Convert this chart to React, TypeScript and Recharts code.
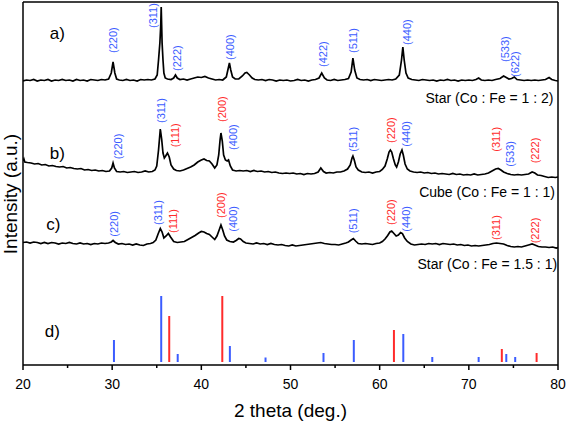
import React from "react"
import { ComposedChart, Line, Scatter, XAxis, YAxis, ReferenceLine } from "recharts"

const FONT = '"Liberation Sans", Arial, Helvetica, sans-serif'
const BLUE = "#3b5cff"
const RED = "#ff2b2b"

// intensities in a.u., patterns stacked with their own offsets
// a) Star (Co : Fe = 1 : 2)
const patternA: [number, number][] = [
  [20.0, 284], [20.4, 285], [20.8, 284.5], [21.2, 285.5], [21.6, 284], [22.0, 285], [22.4, 284.5], [22.8, 285.5],
  [23.2, 284], [23.6, 285], [24.0, 284.5], [24.4, 285.5], [24.8, 284.5], [25.2, 285], [25.6, 284], [26.0, 285.5],
  [26.4, 284.5], [26.8, 285], [27.2, 284], [27.6, 285.5], [28.0, 285], [28.4, 284.5], [28.8, 285.5], [29.2, 285],
  [29.6, 286], [29.9, 292], [30.1, 303], [30.3, 292], [30.5, 286], [30.8, 285], [31.2, 284.5], [31.6, 285.5],
  [32.0, 284.5], [32.4, 285], [32.8, 284], [33.2, 285.5], [33.6, 285], [34.0, 285.5], [34.4, 285], [34.8, 286],
  [35.05, 290], [35.2, 305], [35.35, 322], [35.45, 340], [35.5, 358], [35.55, 340], [35.6, 322], [35.7, 305],
  [35.8, 292], [35.95, 287], [36.2, 286], [36.6, 285.5], [36.9, 287], [37.1, 290], [37.3, 287], [37.6, 285.5],
  [38.0, 286], [38.4, 285], [38.8, 286], [39.2, 287], [39.6, 288], [40.0, 287.5], [40.4, 288.5], [40.8, 287],
  [41.2, 286], [41.6, 285], [42.0, 285.5], [42.4, 285], [42.8, 288], [43.0, 296], [43.15, 302], [43.3, 295],
  [43.5, 288], [43.8, 286], [44.2, 286], [44.6, 289], [44.9, 292], [45.1, 292.5], [45.4, 290], [45.7, 287],
  [46.0, 285.5], [46.4, 285], [46.8, 285.5], [47.2, 284.5], [47.6, 285.5], [48.0, 285], [48.4, 284], [48.8, 285],
  [49.2, 284.5], [49.6, 285], [50.0, 284], [50.4, 284.5], [50.8, 285.5], [51.2, 284.5], [51.6, 285], [52.0, 284],
  [52.4, 285], [52.8, 285.5], [53.2, 287], [53.5, 292], [53.8, 287], [54.1, 285], [54.5, 284.5], [54.9, 285.5],
  [55.3, 284.5], [55.7, 285], [56.1, 285.5], [56.5, 286.5], [56.8, 293], [57.0, 307], [57.2, 295], [57.45, 287],
  [57.8, 285.5], [58.2, 285], [58.6, 285.5], [59.0, 284.5], [59.4, 285.5], [59.8, 285], [60.2, 284.5], [60.6, 285],
  [61.0, 285.5], [61.4, 285], [61.8, 286], [62.2, 290], [62.45, 305], [62.6, 318], [62.75, 305], [62.95, 292],
  [63.2, 287], [63.6, 285.5], [64.0, 285], [64.4, 284.5], [64.8, 285.5], [65.2, 285], [65.6, 284.5], [66.0, 285],
  [66.4, 284], [66.8, 285], [67.2, 284.5], [67.6, 285.5], [68.0, 284.5], [68.4, 285], [68.8, 284], [69.2, 285],
  [69.6, 284.5], [70.0, 285], [70.4, 284.5], [70.8, 285.5], [71.1, 287], [71.4, 285], [71.8, 284.5], [72.2, 285],
  [72.6, 284.5], [73.0, 285.5], [73.5, 286.5], [73.9, 289], [74.2, 287.5], [74.5, 286], [74.8, 286.5], [75.1, 288],
  [75.4, 285.5], [75.8, 285], [76.2, 284.5], [76.6, 285], [77.0, 284.5], [77.4, 285], [77.8, 284.5], [78.2, 285],
  [78.6, 285.5], [79.0, 287.5], [79.3, 285.5], [79.7, 284.5], [80.0, 284],
]

// b) Cube (Co : Fe = 1 : 1)
const patternB: [number, number][] = [
  [20.0, 204], [20.1, 206], [20.2, 203], [20.5, 202.5], [20.9, 202], [21.3, 201], [21.7, 201.5], [22.1, 200],
  [22.5, 200.5], [22.9, 199], [23.3, 199.5], [23.7, 198.5], [24.1, 198], [24.5, 198.5], [24.9, 197], [25.3, 197.5],
  [25.7, 196.5], [26.1, 196], [26.5, 196.5], [26.9, 195], [27.3, 195.5], [27.7, 194.5], [28.1, 195], [28.5, 194],
  [28.9, 194.5], [29.3, 193.5], [29.7, 194], [29.95, 197], [30.1, 202], [30.25, 197], [30.5, 193.5], [30.9, 193],
  [31.3, 193.5], [31.7, 192.5], [32.1, 193], [32.5, 193.5], [32.9, 192.5], [33.3, 193], [33.7, 194], [34.1, 193],
  [34.5, 193.5], [34.8, 195], [35.0, 199], [35.2, 215], [35.4, 236], [35.55, 226], [35.7, 212], [35.85, 207],
  [36.0, 209], [36.2, 212], [36.4, 208], [36.6, 200], [36.9, 196], [37.2, 194.5], [37.6, 194], [38.0, 195],
  [38.4, 196.5], [38.8, 198], [39.2, 200], [39.6, 203], [40.0, 205], [40.3, 206], [40.6, 204.5], [40.9, 204],
  [41.2, 201], [41.5, 197], [41.75, 200], [41.95, 210], [42.1, 225], [42.2, 232], [42.35, 224], [42.5, 210],
  [42.7, 205], [42.9, 204], [43.05, 205], [43.25, 199], [43.5, 195], [43.9, 194], [44.3, 194.5], [44.7, 194],
  [45.1, 194.5], [45.5, 193.5], [45.9, 194.5], [46.3, 193.5], [46.7, 194], [47.1, 193], [47.5, 193.5], [47.9, 192.5],
  [48.3, 193], [48.7, 192], [49.1, 191.5], [49.5, 192], [49.9, 191.5], [50.3, 192], [50.7, 191], [51.1, 191.5],
  [51.5, 190.5], [51.9, 191.5], [52.3, 191], [52.7, 191.5], [53.1, 193], [53.4, 197], [53.7, 193.5], [54.0, 192],
  [54.4, 192.5], [54.8, 192], [55.2, 193], [55.6, 193], [56.0, 194], [56.4, 196], [56.7, 200], [56.9, 207],
  [57.0, 209], [57.15, 205], [57.35, 198], [57.6, 195], [58.0, 193], [58.4, 192.5], [58.8, 193], [59.2, 192],
  [59.6, 193], [60.0, 193.5], [60.3, 195.5], [60.6, 199], [60.85, 206], [61.05, 213], [61.2, 215], [61.35, 213],
  [61.55, 206], [61.75, 200], [61.9, 198], [62.1, 203], [62.3, 211], [62.5, 215], [62.65, 210], [62.85, 201],
  [63.1, 196], [63.4, 194], [63.8, 193], [64.2, 192.5], [64.6, 193], [65.0, 192], [65.4, 192.5], [65.8, 191.5],
  [66.2, 192], [66.6, 191], [67.0, 191.5], [67.4, 191], [67.8, 190.5], [68.2, 191.5], [68.6, 190.5], [69.0, 191],
  [69.4, 190], [69.8, 190.5], [70.2, 190], [70.6, 191], [71.0, 190], [71.4, 190.5], [71.8, 191], [72.2, 192],
  [72.6, 194], [73.0, 196], [73.3, 196.5], [73.6, 195], [73.9, 193], [74.3, 191.5], [74.7, 190.5], [75.1, 190],
  [75.5, 190.5], [75.9, 190], [76.3, 190.5], [76.7, 191], [77.1, 193], [77.4, 192], [77.7, 190], [78.1, 189.5],
  [78.5, 188.5], [78.9, 187.5], [79.3, 188], [79.7, 187.5], [80.0, 188],
]

// c) Star (Co : Fe = 1.5 : 1)
const patternC: [number, number][] = [
  [20.0, 122.5], [20.4, 123], [20.8, 122], [21.2, 123], [21.6, 122.5], [22.0, 121.5], [22.4, 122.5], [22.8, 121.5],
  [23.2, 122.5], [23.6, 122], [24.0, 121], [24.4, 122], [24.8, 121.5], [25.2, 122.5], [25.6, 121.5], [26.0, 121],
  [26.4, 122], [26.8, 121], [27.2, 121.5], [27.6, 120.5], [28.0, 121.5], [28.4, 121], [28.8, 122], [29.2, 121.5],
  [29.6, 122], [29.9, 123], [30.1, 124.5], [30.35, 122.5], [30.7, 121], [31.1, 121.5], [31.5, 120.5], [31.9, 121],
  [32.3, 120], [32.7, 121], [33.1, 120], [33.5, 119.5], [33.9, 121], [34.3, 121.5], [34.6, 122.5], [34.9, 125],
  [35.15, 131], [35.4, 136.5], [35.6, 133], [35.8, 127], [36.05, 129], [36.3, 131.5], [36.55, 128], [36.9, 123.5],
  [37.3, 122.5], [37.7, 123], [38.1, 123.5], [38.5, 125.5], [38.9, 127.5], [39.3, 129.5], [39.7, 132], [40.0, 133.5],
  [40.3, 133], [40.6, 131.5], [40.9, 130.5], [41.2, 128], [41.5, 125.5], [41.75, 129], [42.0, 135], [42.2, 140],
  [42.4, 135], [42.6, 129], [42.85, 125], [43.2, 123.5], [43.6, 123], [43.9, 124.5], [44.2, 126.5], [44.4, 126],
  [44.7, 123.5], [45.0, 122], [45.4, 121.5], [45.8, 121], [46.2, 122], [46.6, 121], [47.0, 121.5], [47.4, 120.5],
  [47.8, 121.5], [48.2, 120.5], [48.6, 120], [49.0, 120.5], [49.4, 119.5], [49.8, 119], [50.2, 120], [50.6, 119],
  [51.0, 119.5], [51.4, 120], [51.8, 120.5], [52.2, 121], [52.6, 121.5], [53.0, 122], [53.4, 122.5], [53.8, 121.5],
  [54.2, 121], [54.6, 120.5], [55.0, 120.5], [55.4, 120], [55.8, 121], [56.2, 122], [56.5, 123], [56.8, 125],
  [57.05, 126.5], [57.3, 124], [57.6, 121.5], [58.0, 121], [58.4, 121.5], [58.8, 121], [59.2, 120.5], [59.6, 121.5],
  [60.0, 122], [60.3, 123.5], [60.6, 126], [60.9, 129.5], [61.15, 133], [61.35, 134], [61.6, 131.5], [61.85, 129],
  [62.1, 130], [62.35, 132.5], [62.55, 131.5], [62.8, 127], [63.1, 123.5], [63.5, 121], [63.9, 120], [64.3, 120.5],
  [64.7, 121], [65.1, 120.5], [65.5, 121.5], [65.9, 121], [66.3, 121.5], [66.7, 120.5], [67.1, 121.5], [67.5, 121],
  [67.9, 120.5], [68.3, 121], [68.7, 120], [69.1, 120.5], [69.5, 119.5], [69.9, 120], [70.3, 119], [70.7, 119.5],
  [71.1, 119], [71.5, 119.5], [71.9, 120], [72.3, 120.5], [72.7, 121.5], [73.1, 122], [73.5, 121.5], [73.9, 121],
  [74.3, 119.5], [74.7, 118.5], [75.1, 118], [75.5, 118.5], [75.9, 118], [76.3, 119], [76.7, 120], [77.1, 121],
  [77.4, 120], [77.8, 118.5], [78.2, 118], [78.6, 118], [79.0, 117.5], [79.4, 118], [79.8, 117], [80.0, 117.5],
]

// d) reference lines
const STICK_BASE = 3
const spinelLines: [number, number][] = [
  [30.2, 22], [35.5, 66], [37.35, 8], [43.2, 16], [47.2, 4.5], [53.7, 9], [57.1, 22], [62.65, 28],
  [65.9, 5], [71.1, 5], [74.2, 8], [75.2, 5],
]
const rockSaltLines: [number, number][] = [
  [36.4, 46], [42.35, 66], [61.6, 32], [73.7, 13], [77.6, 9],
]

// (hkl) tags: [2theta, bottom of text, text, colour]
const hklTags: [number, number, string, "b" | "r"][] = [
  [30.1, 312, "(220)", "b"], [34.6, 337, "(311)", "b"], [37.3, 294, "(222)", "b"], [43.2, 305, "(400)", "b"],
  [53.7, 298, "(422)", "b"], [57.05, 312, "(511)", "b"], [63.1, 320, "(440)", "b"], [74.1, 303, "(533)", "b"],
  [75.2, 288, "(622)", "b"],
  [30.6, 205.7, "(220)", "b"], [35.5, 242, "(311)", "b"], [37.05, 217.7, "(111)", "r"], [42.3, 243, "(200)", "r"],
  [43.5, 215, "(400)", "b"], [57.05, 213.3, "(511)", "b"], [61.3, 222, "(220)", "r"], [63.0, 218.3, "(440)", "b"],
  [73.1, 213.3, "(311)", "r"], [74.6, 198.3, "(533)", "b"], [77.4, 201.7, "(222)", "r"],
  [30.2, 128.3, "(220)", "b"], [35.1, 140, "(311)", "b"], [36.85, 132, "(111)", "r"], [42.2, 147, "(200)", "r"],
  [43.6, 133.3, "(400)", "b"], [57.0, 131.7, "(511)", "b"], [61.3, 140, "(220)", "r"], [62.9, 133.3, "(440)", "b"],
  [73.1, 125, "(311)", "r"], [77.4, 121.7, "(222)", "r"],
]

const panelTags: [number, number, string][] = [
  [23.0, 332, "a)"], [23.0, 212, "b)"], [22.6, 141, "c)"], [22.45, 33.3, "d)"],
]

const sampleNames: [number, number, string][] = [
  [79.5, 267.5, "Star (Co : Fe = 1 : 2)"],
  [79.66, 172.7, "Cube (Co : Fe = 1 : 1)"],
  [79.9, 101, "Star (Co : Fe = 1.5 : 1)"],
]

const xTicks = [20, 25, 30, 35, 40, 45, 50, 55, 60, 65, 70, 75, 80]

const toPoints = (rows: [number, number][]) => rows.map(([x, y]) => ({ x, y }))

const annotations = [
  ...hklTags.map(([x, y, text, c]) => ({ x, y, text, kind: "hkl", color: c === "b" ? BLUE : RED })),
  ...panelTags.map(([x, y, text]) => ({ x, y, text, kind: "tag", color: "#000" })),
  ...sampleNames.map(([x, y, text]) => ({ x, y, text, kind: "name", color: "#000" })),
]

function Annotation(props: any) {
  const { cx, cy, payload } = props
  if (cx == null || cy == null) return <g />
  if (payload.kind === "hkl") {
    return (
      <text x={cx} y={cy} transform={`rotate(-90 ${cx} ${cy})`} fill={payload.color} fontSize={11}
        fontFamily={FONT} dominantBaseline="central" textAnchor="start">
        {payload.text}
      </text>
    )
  }
  if (payload.kind === "tag") {
    return (
      <text x={cx} y={cy} fill="#000" fontSize={17} fontFamily={FONT} dominantBaseline="central" textAnchor="start">
        {payload.text}
      </text>
    )
  }
  return (
    <text x={cx} y={cy} fill="#000" fontSize={14} fontFamily={FONT}
      dominantBaseline="central" textAnchor="end">
      {payload.text}
    </text>
  )
}

function XTick({ x, y, payload }: any) {
  const major = payload.value % 10 === 0
  return (
    <g>
      <line x1={x} x2={x} y1={y} y2={y + (major ? 5 : 3)} stroke="#000" strokeWidth={1.5} />
      {major && (
        <text x={x} y={y + 24} textAnchor="middle" fontSize={14} fontFamily={FONT} fill="#000">
          {payload.value}
        </text>
      )}
    </g>
  )
}

export default function App() {
  const sticks = [
    ...spinelLines.map(([x, h]) => ({ x, h, color: BLUE })),
    ...rockSaltLines.map(([x, h]) => ({ x, h, color: RED })),
  ]

  return (
    <div style={{ position: "absolute", left: 0, top: 0, width: 567, height: 421, background: "#fff" }}>
      <ComposedChart width={567} height={421} margin={{ top: 2, right: 9, bottom: 0, left: 0 }}>
        <XAxis
          dataKey="x"
          type="number"
          domain={[20, 80]}
          ticks={xTicks}
          interval={0}
          allowDataOverflow
          tickSize={0}
          tickMargin={0}
          tickLine={false}
          tick={<XTick />}
          height={56}
          axisLine={{ stroke: "#000", strokeWidth: 1.5 }}
          label={{
            content: ({ viewBox }: any) => (
              <text x={viewBox.x + viewBox.width / 2} y={viewBox.y + 52} textAnchor="middle" fontSize={19}
                fontFamily={FONT} fill="#000">
                2 theta (deg.)
              </text>
            ),
          }}
        />
        <YAxis
          type="number"
          domain={[0, 363]}
          allowDataOverflow
          width={23}
          tick={false}
          tickLine={false}
          axisLine={{ stroke: "#000", strokeWidth: 1.5 }}
          label={{
            content: () => {
              const lx = 17
              const ly = 194
              return (
                <text x={lx} y={ly} transform={`rotate(-90 ${lx} ${ly})`} textAnchor="middle" fontSize={19}
                  fontFamily={FONT} fill="#000">
                  Intensity (a.u.)
                </text>
              )
            },
          }}
        />
        <ReferenceLine y={363} stroke="#000" strokeWidth={1.5} />
        <ReferenceLine x={80} stroke="#000" strokeWidth={1.5} />

        {sticks.map((s, i) => (
          <Line
            key={`stick-${i}`}
            data={[{ x: s.x, y: STICK_BASE }, { x: s.x, y: STICK_BASE + s.h }]}
            dataKey="y"
            type="linear"
            stroke={s.color}
            strokeWidth={2}
            dot={false}
            isAnimationActive={false}
          />
        ))}

        <Line data={toPoints(patternA)} dataKey="y" type="linear" stroke="#000" strokeWidth={1.7} dot={false} isAnimationActive={false} />
        <Line data={toPoints(patternB)} dataKey="y" type="linear" stroke="#000" strokeWidth={1.7} dot={false} isAnimationActive={false} />
        <Line data={toPoints(patternC)} dataKey="y" type="linear" stroke="#000" strokeWidth={1.7} dot={false} isAnimationActive={false} />

        <Scatter data={annotations} dataKey="y" shape={Annotation} isAnimationActive={false} />
      </ComposedChart>
    </div>
  )
}
